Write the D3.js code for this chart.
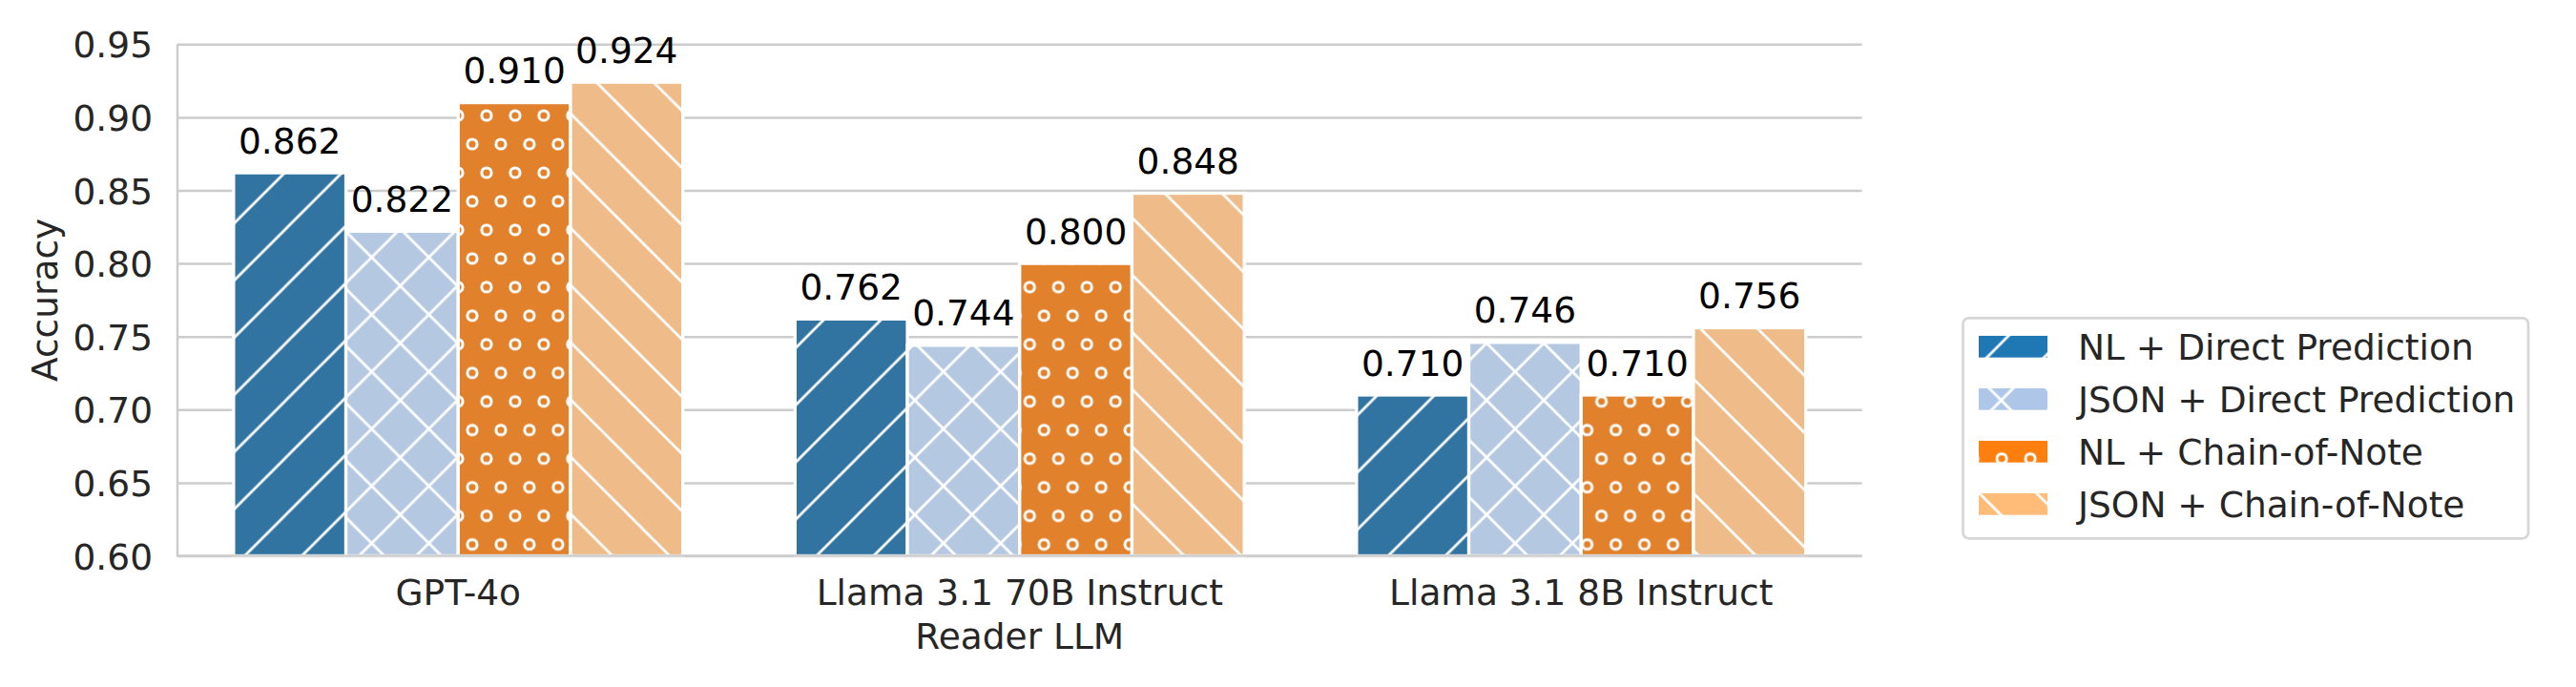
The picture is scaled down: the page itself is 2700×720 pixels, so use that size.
<!DOCTYPE html>
<html>
<head>
<meta charset="utf-8">
<script src="https://cdn.jsdelivr.net/npm/d3@7/dist/d3.min.js"></script>
<style>
  html, body { margin: 0; padding: 0; background: #fff; }
  svg { display: block; }
  text { font-family: "DejaVu Sans", sans-serif; }
</style>
</head>
<body>
<svg id="chart" width="2700" height="720"></svg>
<script>
// ---- data ----
const categories = ["GPT-4o", "Llama 3.1 70B Instruct", "Llama 3.1 8B Instruct"];
const seriesNames = ["NL + Direct Prediction", "JSON + Direct Prediction", "NL + Chain-of-Note", "JSON + Chain-of-Note"];
const nlDirect   = [0.862, 0.762, 0.710];
const jsonDirect = [0.822, 0.744, 0.746];
const nlCoN      = [0.910, 0.800, 0.710];
const jsonCoN    = [0.924, 0.848, 0.756];
const yTicks = [0.60, 0.65, 0.70, 0.75, 0.80, 0.85, 0.90, 0.95];
const xLabel = "Reader LLM";
const yLabel = "Accuracy";

const seriesValues = [nlDirect, jsonDirect, nlCoN, jsonCoN];
const hatches = ["/", "x", "o", "\\"];
const barColors = ["#3274a1", "#b5c8e2", "#e1812c", "#eebb89"];
const legendColors = ["#1f77b4", "#aec7e8", "#ff7f0e", "#ffbb78"];

// ---- layout ----
const pLeft = 186, pRight = 1951.5, pTop = 46.3, pBottom = 582.5;
const FS = 37.5;
const svg = d3.select("#chart");

const x = d3.scaleBand().domain(categories).range([pLeft, pRight]).paddingInner(0.2).paddingOuter(0.1);
const xs = d3.scaleBand().domain(seriesNames).range([0, x.bandwidth()]).padding(0);
const y = d3.scaleLinear().domain([0.60, 0.95]).range([pBottom, pTop]);

// ---- hatch patterns (anchored to page origin) ----
const T = 59.93;
const defs = svg.append("defs");
function makePattern(id, hatch, color) {
  const p = defs.append("pattern").attr("id", id)
    .attr("patternUnits", "userSpaceOnUse")
    .attr("width", T).attr("height", T);
  if (hatch === "o") p.attr("patternTransform", "translate(0.56,1.2)");
  if (hatch === "\\") p.attr("patternTransform", "translate(0,0.5)");
  p.append("rect").attr("x", -1).attr("y", -1).attr("width", T + 2).attr("height", T + 2).attr("fill", color);
  const lw = 2.7;
  const ne = () => { // x + y = k*T
    [0, T, 2 * T].forEach(c => p.append("line")
      .attr("x1", c + 5).attr("y1", -5).attr("x2", c - T - 5).attr("y2", T + 5)
      .attr("stroke", "#fff").attr("stroke-width", lw));
  };
  const se = () => { // y - x = k*T
    [-T, 0, T].forEach(c => p.append("line")
      .attr("x1", -5).attr("y1", c - 5).attr("x2", T + 5).attr("y2", c + T + 5)
      .attr("stroke", "#fff").attr("stroke-width", lw));
  };
  if (hatch === "/") ne();
  if (hatch === "\\") se();
  if (hatch === "x") { ne(); se(); }
  if (hatch === "o") {
    const pts = [];
    [0, T].forEach(yy => [0, T / 2, T].forEach(xx => pts.push([xx, yy])));
    [T / 4, 3 * T / 4].forEach(xx => pts.push([xx, T / 2]));
    pts.push([-T / 4, T / 2], [T + T / 4, T / 2]);
    pts.forEach(([cx, cy]) => p.append("circle").attr("cx", cx).attr("cy", cy).attr("r", 5.1)
      .attr("fill", "none").attr("stroke", "#fff").attr("stroke-width", 3));
  }
}
hatches.forEach((h, i) => {
  makePattern("bar" + i, h, barColors[i]);
  makePattern("leg" + i, h, legendColors[i]);
});

// ---- grid + y axis ----
const yAxis = d3.axisLeft(y).tickValues(yTicks).tickFormat(d3.format(".2f"))
  .tickSize(-(pRight - pLeft)).tickPadding(26);
const gy = svg.append("g").attr("transform", `translate(${pLeft},0)`).call(yAxis);
gy.select(".domain").remove();
gy.selectAll(".tick line").attr("stroke", "#cccccc").attr("stroke-width", 2.5);
gy.selectAll(".tick text").attr("font-size", FS).attr("fill", "#262626").attr("dy", "0.365em")
  .attr("font-family", "DejaVu Sans");

// ---- bars ----
const gBars = svg.append("g");
seriesNames.forEach((s, si) => {
  gBars.selectAll(null).data(categories).enter().append("rect")
    .attr("x", c => x(c) + xs(s))
    .attr("width", xs.bandwidth())
    .attr("y", (c, ci) => y(seriesValues[si][ci]))
    .attr("height", (c, ci) => y(0.60) - y(seriesValues[si][ci]))
    .attr("fill", `url(#bar${si})`)
    .attr("stroke", "#fff").attr("stroke-width", 3.3);
});

// ---- spines ----
svg.append("line").attr("x1", pLeft).attr("x2", pLeft).attr("y1", pTop).attr("y2", pBottom)
  .attr("stroke", "#cccccc").attr("stroke-width", 2.5);
svg.append("line").attr("x1", pLeft - 1.25).attr("x2", pRight).attr("y1", pBottom).attr("y2", pBottom)
  .attr("stroke", "#cccccc").attr("stroke-width", 2.5);

// ---- value labels ----
seriesNames.forEach((s, si) => {
  svg.append("g").selectAll("text").data(categories).enter().append("text")
    .attr("x", c => x(c) + xs(s) + xs.bandwidth() / 2)
    .attr("y", (c, ci) => y(seriesValues[si][ci]) - 20.4)
    .attr("text-anchor", "middle").attr("font-size", FS).attr("fill", "#000")
    .text((c, ci) => d3.format(".3f")(seriesValues[si][ci]));
});

// ---- x axis ----
const xAxis = d3.axisBottom(x).tickSize(0).tickPadding(0);
const gx = svg.append("g").attr("transform", `translate(0,${pBottom})`).call(xAxis);
gx.select(".domain").remove();
gx.selectAll(".tick text").attr("font-size", FS).attr("fill", "#262626")
  .attr("font-family", "DejaVu Sans").attr("y", 634 - pBottom).attr("dy", 0);

svg.append("text").attr("x", (pLeft + pRight) / 2).attr("y", 680)
  .attr("text-anchor", "middle").attr("font-size", FS).attr("fill", "#262626").text(xLabel);
svg.append("text").attr("transform", `translate(60,${(pTop + pBottom) / 2}) rotate(-90)`)
  .attr("text-anchor", "middle").attr("font-size", FS).attr("fill", "#262626").text(yLabel);

// ---- legend ----
const lg = svg.append("g");
lg.append("rect").attr("x", 2057.5).attr("y", 333.3).attr("width", 592.5).attr("height", 231)
  .attr("rx", 6).attr("fill", "#fff").attr("stroke", "#d6d6d6").attr("stroke-width", 2.7);
seriesNames.forEach((s, i) => {
  const cy = 363.3 + i * 55;
  lg.append("rect").attr("x", 2074).attr("y", cy - 11.35).attr("width", 72).attr("height", 22.7)
    .attr("fill", `url(#leg${i})`);
  lg.append("text").attr("x", 2178).attr("y", cy + 13.6).attr("font-size", FS)
    .attr("fill", "#262626").text(s);
});
</script>
</body>
</html>
